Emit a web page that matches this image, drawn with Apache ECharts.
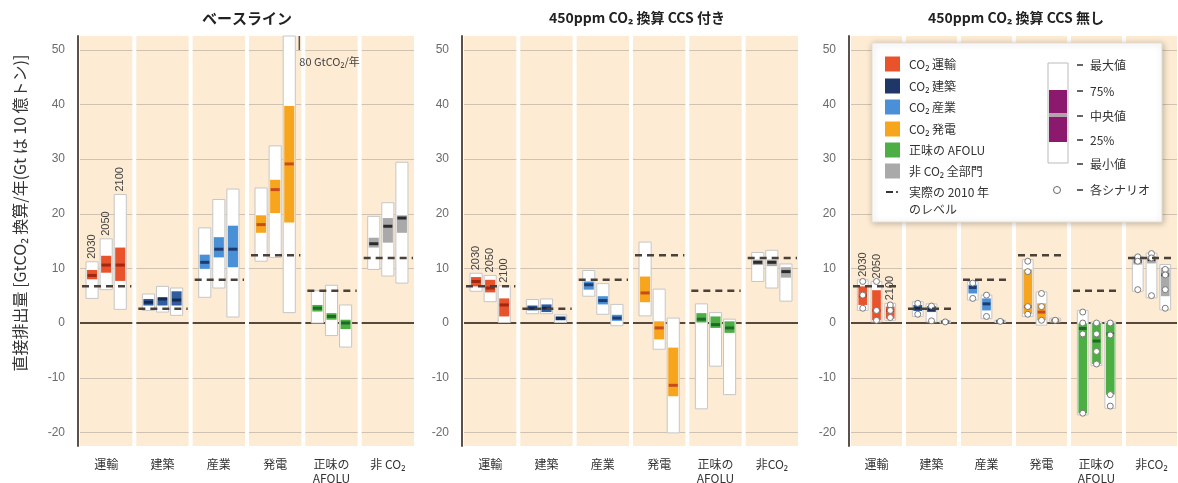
<!DOCTYPE html>
<html><head><meta charset="utf-8">
<script src="https://cdn.jsdelivr.net/npm/echarts@6/dist/echarts.min.js"></script>
<style>html,body{margin:0;padding:0;background:#fff}#c{width:1178px;height:483px}</style>
</head><body><div id="c"></div>
<script>
// ---------------- DATA ----------------
const categoriesBaseline = ['運輸', '建築', '産業', '発電', '正味の\nAFOLU', '非 CO₂'];
const categoriesMitigation = ['運輸', '建築', '産業', '発電', '正味の\nAFOLU', '非CO₂'];
const years = ['2030', '2050', '2100'];
const panelTitles = ['ベースライン', '450ppm CO₂ 換算 CCS 付き', '450ppm CO₂ 換算 CCS 無し'];
const yTickLabels = [-20, -10, 0, 10, 20, 30, 40, 50];
const gridTicks = [-20, -10, 10, 20, 30, 40, 50];
const level2010 = [6.7, 2.6, 7.9, 12.4, 5.9, 11.9];

// each entry: [min, 25%, median, 75%, max] for 2030, 2050, 2100
const baseTransport = [[4.5, 8.0, 8.7, 9.7, 11.2], [6.1, 9.2, 10.6, 12.3, 15.4], [2.5, 7.7, 10.6, 13.8, 23.5]];
const baseBuildings = [[2.3, 3.2, 3.8, 4.4, 5.3], [2.0, 3.2, 4.4, 4.7, 6.7], [1.4, 3.2, 4.2, 5.8, 6.4]];
const baseIndustry = [[4.7, 9.9, 11.1, 12.5, 17.4], [6.4, 12.0, 13.5, 15.7, 22.6], [1.1, 10.2, 13.5, 17.8, 24.5]];
const basePower = [[11.3, 16.5, 18.0, 19.7, 24.7], [12.0, 20.1, 24.4, 26.2, 32.4], [1.9, 18.4, 29.1, 39.7, 80]];
const baseAfolu = [[0, 2.1, 2.7, 3.3, 5.9], [-2.3, 0.6, 1.2, 1.8, 6.9], [-4.4, -1.1, 0, 0.6, 3.3]];
const baseNonCO2 = [[9.8, 13.8, 14.5, 15.6, 19.5], [8.6, 14.7, 17.7, 19.2, 22.0], [7.3, 16.5, 19.2, 19.7, 29.4]];

const ccsTransport = [[5.8, 6.7, 7.6, 8.4, 9.1], [3.9, 5.6, 6.4, 7.9, 8.7], [0.1, 1.2, 3.3, 4.5, 6.8]];
const ccsBuildings = [[1.7, 2.3, 2.7, 3.2, 4.3], [1.7, 2.0, 2.7, 3.4, 4.4], [0.1, 0.5, 0.85, 1.2, 1.5]];
const ccsIndustry = [[4.9, 6.1, 7.0, 7.6, 9.6], [1.6, 3.4, 4.1, 4.9, 7.2], [-0.5, 0.4, 0.9, 1.5, 3.4]];
const ccsPower = [[1.3, 3.8, 5.5, 8.5, 14.8], [-4.8, -3.0, -0.9, 0.3, 6.2], [-20.1, -13.4, -11.4, -4.5, 0.9]];
const ccsAfolu = [[-15.7, 0.1, 0.7, 1.8, 3.5], [-7.9, -0.9, -0.3, 1.2, 1.9], [-13.1, -1.8, -0.9, 0.3, 0.7]];
const ccsNonCO2 = [[7.6, 10.6, 11.1, 11.6, 12.9], [6.4, 10.4, 11.1, 11.6, 13.3], [4.0, 8.3, 9.4, 10.2, 10.8]];

const noccsTransport = [[2.3, 3.3, 5.0, 6.7, 7.9], [0.2, 0.5, 2.3, 6.0, 7.6], [0.5, 0.8, 2.3, 3.0, 3.6]];
const noccsBuildings = [[1.2, 2.2, 2.7, 3.3, 3.9], [0.2, 2.0, 2.5, 3.1, 3.5], [0.0, 0.1, 0.2, 0.3, 0.4]];
const noccsIndustry = [[4.2, 5.4, 6.5, 7.0, 7.6], [0.8, 2.3, 3.5, 4.5, 5.1], [0.1, 0.2, 0.3, 0.4, 0.5]];
const noccsPower = [[1.2, 1.7, 3.0, 9.8, 11.6], [-0.4, 0.5, 2.0, 3.6, 5.7], [0.2, 0.4, 0.5, 0.6, 0.9]];
const noccsAfolu = [[-16.8, -16.5, -1.0, -0.1, 2.3], [-7.8, -7.5, -3.3, 0, 0.2], [-15.6, -13.1, -2.0, 0, 0.2]];
const noccsNonCO2 = [[5.8, 10.7, 11.3, 11.9, 12.2], [4.6, 10.9, 11.6, 12.2, 12.8], [2.4, 4.9, 8.8, 10.1, 10.7]];

// individual scenarios (CCS 無し panel), per year
const scenTransport = [[7.6, 5.1, 2.7], [7.6, 2.3, 0.5], [3.3, 2.3, 1.0]];
const scenBuildings = [[3.6, 1.6], [3.1, 0.4], [0.2]];
const scenIndustry = [[7.3, 4.5], [5.1, 1.2], [0.3]];
const scenPower = [[11.3, 9.4, 3.0, 1.6], [5.4, 3.0, 0.5], [0.5]];
const scenAfolu = [[2.0, 0, -2.0, -16.5], [0, -2.0, -5.2, -7.5], [0, -2.2, -13.1, -15.2]];
const scenNonCO2 = [[12.1, 11.3, 6.1], [12.7, 11.9, 5.0], [9.8, 8.8, 6.1, 2.7]];

const legendSectors = ['CO₂ 運輸', 'CO₂ 建築', 'CO₂ 産業', 'CO₂ 発電', '正味の AFOLU', '非 CO₂ 全部門'];
const legendStats = ['最大値', '75%', '中央値', '25%', '最小値'];

// ---------------- STYLE ----------------
const FONT = '"Noto Sans CJK JP", "Noto Sans", sans-serif';
const Y_MIN = -22.5, Y_MAX = 52.5;
const PEACH = '#fdebd3';
const sectorFill = ['#e9532b', '#2f5d9e', '#4a90d6', '#f8a51e', '#4cae43', '#a9a9a9'];
const legendFill = ['#e9532b', '#1f3767', '#4a90d6', '#f8a51e', '#4cae43', '#a9a9a9'];
const sectorMedian = ['#a3260f', '#16284d', '#1d3b6e', '#c84b1c', '#1c6a25', '#2b2b2b'];

const panels = [
  {cats: categoriesBaseline, boxes: [baseTransport, baseBuildings, baseIndustry, basePower, baseAfolu, baseNonCO2]},
  {cats: categoriesMitigation, boxes: [ccsTransport, ccsBuildings, ccsIndustry, ccsPower, ccsAfolu, ccsNonCO2]},
  {cats: categoriesMitigation, boxes: [noccsTransport, noccsBuildings, noccsIndustry, noccsPower, noccsAfolu, noccsNonCO2],
   scen: [scenTransport, scenBuildings, scenIndustry, scenPower, scenAfolu, scenNonCO2]}
];
const gridPos = [{left: 78, width: 338}, {left: 462, width: 338}, {left: 849, width: 330}];

function boxItems(groups) {
  const out = [];
  groups.forEach((g, c) => g.forEach((s, y) => out.push([c, y].concat(s))));
  return out;
}
function scenItems(groups) {
  const out = [];
  groups.forEach((g, c) => g.forEach((vals, y) => vals.forEach(v => out.push([c, y, v]))));
  return out;
}

function bgRender(params, api) {
  const cat = api.value(0);
  const bw = api.size([1, 0])[0];
  const cx = api.coord([cat, 0])[0];
  const left = cx - bw / 2 + 2, w = bw - 4;
  const yTop = api.coord([cat, Y_MAX])[1], yBot = api.coord([cat, Y_MIN])[1];
  const children = [{type: 'rect', shape: {x: left, y: yTop, width: w, height: yBot - yTop}, style: {fill: PEACH}}];
  gridTicks.forEach(t => {
    const y = Math.round(api.coord([cat, t])[1]) + 0.5;
    children.push({type: 'line', shape: {x1: left, y1: y, x2: left + w, y2: y}, style: {stroke: '#d0c2b0', lineWidth: 1}});
  });
  const y0 = api.coord([cat, 0])[1];
  children.push({type: 'line', shape: {x1: left, y1: y0, x2: left + w, y2: y0}, style: {stroke: '#54483f', lineWidth: 2}});
  return {type: 'group', children};
}

function dashRender(params, api) {
  const cat = api.value(0);
  const bw = api.size([1, 0])[0];
  const cx = api.coord([cat, 0])[0];
  const left = cx - bw / 2 + 4, right = cx + bw / 2 - 3;
  const y = api.coord([cat, api.value(1)])[1];
  return {type: 'line', shape: {x1: left, y1: y, x2: right, y2: y},
    style: {stroke: '#4a413b', lineWidth: 2.5, lineDash: [7, 5]}};
}

function makeBoxRender(widthFrac) {
  return function (params, api) {
    const cat = api.value(0), yr = api.value(1);
    const mn = api.value(2), q1 = api.value(3), md = api.value(4), q3 = api.value(5), mx = api.value(6);
    const bw = api.size([1, 0])[0];
    const cx = api.coord([cat, 0])[0] + (yr - 1) * bw * 0.25;
    const w = bw * widthFrac;
    const x = cx - w / 2;
    const yMax = api.coord([cat, Math.min(mx, Y_MAX)])[1];
    const yMin = api.coord([cat, mn])[1];
    const yQ3 = api.coord([cat, q3])[1], yQ1 = api.coord([cat, q1])[1], yMd = api.coord([cat, md])[1];
    const children = [
      {type: 'rect', shape: {x: x, y: yMax, width: w, height: Math.max(yMin - yMax, 2)},
        style: {fill: '#ffffff', stroke: '#c6c6c6', lineWidth: 1}},
      {type: 'rect', shape: {x: x + 1, y: yQ3, width: w - 2, height: Math.max(yQ1 - yQ3, 1)},
        style: {fill: sectorFill[cat]}},
      {type: 'rect', shape: {x: x + 1.5, y: yMd - 1.5, width: w - 3, height: 3},
        style: {fill: sectorMedian[cat]}}
    ];
    if (cat === 0) {
      children.push({type: 'text', x: cx, y: yMax - 3, rotation: Math.PI / 2,
        style: {text: years[yr], fill: '#444', font: '11px "Liberation Sans", sans-serif',
          align: 'left', verticalAlign: 'middle', textAlign: 'left', textVerticalAlign: 'middle'}});
    }
    if (mx > Y_MAX) {
      const ax = x + w + 4;
      children.push({type: 'line', shape: {x1: ax, y1: yMax, x2: ax, y2: yMax + 14},
        style: {stroke: '#555', lineWidth: 1.5}});
      children.push({type: 'text', x: ax, y: yMax + 26,
        style: {text: mx + ' GtCO₂/年', fill: '#444', font: '11px ' + FONT,
          align: 'left', verticalAlign: 'middle', textAlign: 'left', textVerticalAlign: 'middle'}});
    }
    return {type: 'group', children};
  };
}

function scenRender(params, api) {
  const cat = api.value(0), yr = api.value(1);
  const bw = api.size([1, 0])[0];
  const cx = api.coord([cat, 0])[0] + (yr - 1) * bw * 0.25;
  const y = api.coord([cat, api.value(2)])[1];
  return {type: 'circle', shape: {cx: cx, cy: y, r: 3}, style: {fill: '#ffffff', stroke: '#7a7a7a', lineWidth: 1}};
}

const series = [];
panels.forEach((p, i) => {
  series.push({type: 'custom', xAxisIndex: i, yAxisIndex: i, z: 1, silent: true,
    data: p.cats.map((c, k) => [k, 0]), renderItem: bgRender, encode: {x: 0, y: 1}});
  series.push({type: 'custom', xAxisIndex: i, yAxisIndex: i, z: 2, silent: true,
    data: boxItems(p.boxes), renderItem: makeBoxRender(i === 2 ? 0.195 : 0.215), encode: {x: 0, y: 6}});
  if (p.scen) {
    series.push({type: 'custom', xAxisIndex: i, yAxisIndex: i, z: 3, silent: true,
      data: scenItems(p.scen), renderItem: scenRender, encode: {x: 0, y: 2}});
  }
  series.push({type: 'custom', xAxisIndex: i, yAxisIndex: i, z: 4, silent: true,
    data: level2010.map((v, k) => [k, v]), renderItem: dashRender, encode: {x: 0, y: 1}});
});

// ---------------- GRAPHICS (titles, y title, legend) ----------------
const txt = (x, y, text, font, fill, align, extra) => Object.assign({
  type: 'text', x, y, z: 100,
  style: {text, font, fill: fill || '#333', align: align || 'left', verticalAlign: 'middle',
    textAlign: align || 'left', textVerticalAlign: 'middle'}}, extra || {});

const graphics = [
  txt(247, 18, panelTitles[0], 'bold 15px ' + FONT, '#222', 'center'),
  txt(637, 18, panelTitles[1], 'bold 14px ' + FONT, '#222', 'center'),
  txt(1016, 18, panelTitles[2], 'bold 14px ' + FONT, '#222', 'center'),
  txt(20, 213, '直接排出量 [GtCO₂ 換算/年(Gt は 10 億トン)]', '16px ' + FONT, '#333', 'center', {rotation: Math.PI / 2}),
  {type: 'rect', z: 90, shape: {x: 872, y: 43, width: 290, height: 179},
    style: {fill: '#ffffff', stroke: '#e6ddd2', lineWidth: 1, shadowBlur: 6, shadowColor: 'rgba(0,0,0,0.25)', shadowOffsetX: 1, shadowOffsetY: 1}}
];
const rowY = [64, 86, 107, 129, 150, 171];
legendSectors.forEach((s, k) => {
  graphics.push({type: 'rect', z: 100, shape: {x: 885, y: rowY[k] - 7.5, width: 15, height: 15}, style: {fill: legendFill[k]}});
  graphics.push(txt(909, rowY[k], s, '12px ' + FONT, '#333'));
});
graphics.push({type: 'line', z: 100, shape: {x1: 886, y1: 192, x2: 893, y2: 192}, style: {stroke: '#333', lineWidth: 2}});
graphics.push({type: 'rect', z: 100, shape: {x: 896, y: 191, width: 2, height: 2}, style: {fill: '#555'}});
graphics.push(txt(909, 192, '実際の 2010 年', '12px ' + FONT, '#333'));
graphics.push(txt(909, 209, 'のレベル', '12px ' + FONT, '#333'));
// box-plot key
graphics.push({type: 'rect', z: 100, shape: {x: 1048, y: 63, width: 20, height: 100}, style: {fill: '#fff', stroke: '#bbb', lineWidth: 1}});
graphics.push({type: 'rect', z: 101, shape: {x: 1049, y: 90, width: 18, height: 52}, style: {fill: '#8b1a6e'}});
graphics.push({type: 'rect', z: 102, shape: {x: 1049, y: 113, width: 18, height: 4}, style: {fill: '#b3a3ad'}});
const statY = [65, 91, 116, 140, 164];
legendStats.forEach((s, k) => {
  graphics.push({type: 'line', z: 100, shape: {x1: 1077, y1: statY[k], x2: 1083, y2: statY[k]}, style: {stroke: '#333', lineWidth: 1.5}});
  graphics.push(txt(1090, statY[k], s, '12px ' + FONT, '#333'));
});
graphics.push({type: 'circle', z: 100, shape: {cx: 1057, cy: 190, r: 3.5}, style: {fill: '#fff', stroke: '#666', lineWidth: 1}});
graphics.push({type: 'line', z: 100, shape: {x1: 1077, y1: 190, x2: 1083, y2: 190}, style: {stroke: '#333', lineWidth: 1.5}});
graphics.push(txt(1090, 190, '各シナリオ', '12px ' + FONT, '#333'));

// ---------------- OPTION ----------------
const option = {
  backgroundColor: '#ffffff',
  animation: false,
  grid: gridPos.map(g => ({left: g.left, width: g.width, top: 36, height: 410, outerBoundsMode: 'none', containLabel: false})),
  xAxis: panels.map((p, i) => ({
    gridIndex: i, type: 'category', data: p.cats, boundaryGap: true,
    axisLine: {show: false}, axisTick: {show: false}, splitLine: {show: false},
    axisLabel: {interval: 0, color: '#333', fontSize: 12, lineHeight: 14, margin: 11, fontFamily: FONT}
  })),
  yAxis: panels.map((p, i) => ({
    gridIndex: i, type: 'value', min: Y_MIN, max: Y_MAX, interval: 2.5,
    axisLine: {show: true, onZero: false, lineStyle: {color: '#5d5048', width: 2}},
    axisTick: {show: false}, splitLine: {show: false},
    axisLabel: {color: '#6b6b6b', fontSize: 12, margin: 13, fontFamily: '"Liberation Sans", sans-serif',
      formatter: v => (yTickLabels.indexOf(v) >= 0 ? String(v) : '')}
  })),
  series,
  graphic: {elements: graphics}
};

const chart = echarts.init(document.getElementById('c'), null, {renderer: 'canvas'});
chart.setOption(option);
</script></body></html>
